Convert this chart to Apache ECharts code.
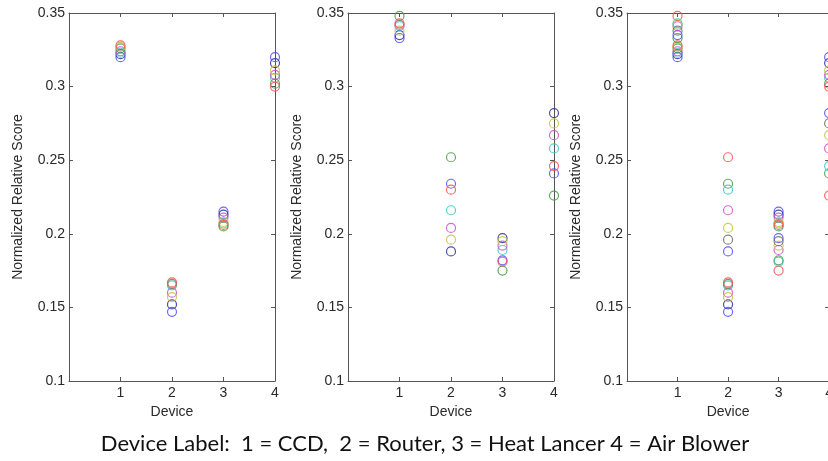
<!DOCTYPE html>
<html>
<head>
<meta charset="utf-8">
<script src="https://cdn.jsdelivr.net/npm/echarts@6/dist/echarts.min.js"></script>
<style>
html,body{margin:0;padding:0;background:#fff;overflow:hidden;width:828px;height:461px;}
#chart{width:836px;height:461px;}
</style>
</head>
<body>
<div id="chart"></div>
<script>
// x positions (device numbers)
const devices = [1, 2, 3, 4];
const xTicks = [0, 1, 2, 3, 4];
const yTicks = [0.1, 0.15, 0.2, 0.25, 0.3, 0.35];

// Panel 1: each row = one trial, values for devices 1..4
const panel1Series = [
  [0.320, 0.147, 0.215, 0.320],
  [0.322, 0.152, 0.213, 0.316],
  [0.323, 0.165, 0.207, 0.306],
  [0.324, 0.160, 0.211, 0.308],
  [0.326, 0.166, 0.205, 0.302],
  [0.327, 0.157, 0.208, 0.311],
  [0.328, 0.167, 0.206, 0.300]
];
// Panel 2
const panel2Series = [
  [0.333, 0.234, 0.182, 0.241],
  [0.335, 0.188, 0.197, 0.282],
  [0.341, 0.216, 0.189, 0.258],
  [0.342, 0.204, 0.192, 0.267],
  [0.348, 0.252, 0.175, 0.226],
  [0.338, 0.196, 0.195, 0.275],
  [0.343, 0.230, 0.181, 0.246]
];

const xLabel = 'Device';
const yLabel = 'Normalized Relative Score';
const caption = 'Device Label:  1 = CCD,  2 = Router, 3 = Heat Lancer 4 = Air Blower';

// styles
const C = {
  b: '#5050ff', k: '#30309a', c: '#40c4c4', m: '#cc50cc',
  g: '#449c44', y: '#c4c440', r: '#ff5050', gray: '#707070'
};
const panel1Colors = [C.b, C.k, C.c, C.m, C.g, C.y, C.r];
const panel2Colors = [C.b, C.k, C.c, C.m, C.g, C.y, C.r];
const panel2ColorsInPanel3 = [C.g, C.b, C.m, C.y, C.r, C.gray, C.c];

// Panel 3 combines both
const panel3Series = panel1Series.concat(panel2Series);
const panel3Colors = panel1Colors.concat(panel2ColorsInPanel3);

const panels = [
  {series: panel1Series, colors: panel1Colors, left: 69},
  {series: panel2Series, colors: panel2Colors, left: 348},
  {series: panel3Series, colors: panel3Colors, left: 627}
];

const axisColor = '#555';
const textColor = '#2a2a2a';
const font = 'Liberation Sans, Arial, sans-serif';

const grids = [], xAxes = [], yAxes = [], series = [];
panels.forEach((p, gi) => {
  grids.push({left: p.left, top: 13, width: 206, height: 368});
  xAxes.push({
    gridIndex: gi, type: 'value', position: 'bottom',
    min: xTicks[0], max: xTicks[xTicks.length - 1], interval: 1,
    name: xLabel, nameLocation: 'middle', nameGap: 22,
    nameTextStyle: {color: textColor, fontSize: 14, fontFamily: font},
    axisLine: {show: true, onZero: false, lineStyle: {color: axisColor, width: 1}},
    axisTick: {show: true, inside: true, length: 4, lineStyle: {color: axisColor}},
    axisLabel: {margin: 5, color: textColor, fontSize: 14, fontFamily: font,
      formatter: v => (v === 0 ? '' : String(v))},
    splitLine: {show: false}
  });
  xAxes.push({
    gridIndex: gi, type: 'value', position: 'top',
    min: xTicks[0], max: xTicks[xTicks.length - 1], interval: 1,
    axisLine: {show: true, onZero: false, lineStyle: {color: axisColor, width: 1}},
    axisTick: {show: true, inside: true, length: 4, lineStyle: {color: axisColor}},
    axisLabel: {show: false}, splitLine: {show: false}
  });
  yAxes.push({
    gridIndex: gi, type: 'value', position: 'left',
    min: yTicks[0], max: yTicks[yTicks.length - 1], interval: 0.05,
    name: yLabel, nameLocation: 'middle', nameGap: 44, nameRotate: 90,
    nameTextStyle: {color: textColor, fontSize: 14, fontFamily: font},
    axisLine: {show: true, onZero: false, lineStyle: {color: axisColor, width: 1}},
    axisTick: {show: true, inside: true, length: 4, lineStyle: {color: axisColor}},
    axisLabel: {margin: 4, color: textColor, fontSize: 14, fontFamily: font},
    splitLine: {show: false}
  });
  yAxes.push({
    gridIndex: gi, type: 'value', position: 'right',
    min: yTicks[0], max: yTicks[yTicks.length - 1], interval: 0.05,
    axisLine: {show: true, onZero: false, lineStyle: {color: axisColor, width: 1}},
    axisTick: {show: true, inside: true, length: 4, lineStyle: {color: axisColor}},
    axisLabel: {show: false}, splitLine: {show: false}
  });
  p.series.forEach((vals, si) => {
    series.push({
      type: 'scatter',
      xAxisIndex: gi * 2, yAxisIndex: gi * 2,
      symbol: 'circle', symbolSize: 9, clip: false,
      itemStyle: {color: 'rgba(0,0,0,0)', borderColor: p.colors[si], borderWidth: 1.2, opacity: 0.85},
      data: devices.map((d, i) => [d, vals[i]])
    });
  });
});

const chart = echarts.init(document.getElementById('chart'), null, {renderer: 'canvas'});
chart.setOption({
  animation: false,
  backgroundColor: '#fff',
  grid: grids, xAxis: xAxes, yAxis: yAxes, series: series,
  graphic: [{
    type: 'text', x: 425, y: 444,
    style: {text: caption, fill: '#111', fontSize: 22, fontFamily: 'Lato, sans-serif',
      textAlign: 'center', textVerticalAlign: 'middle'}
  }]
});
</script>
</body>
</html>
